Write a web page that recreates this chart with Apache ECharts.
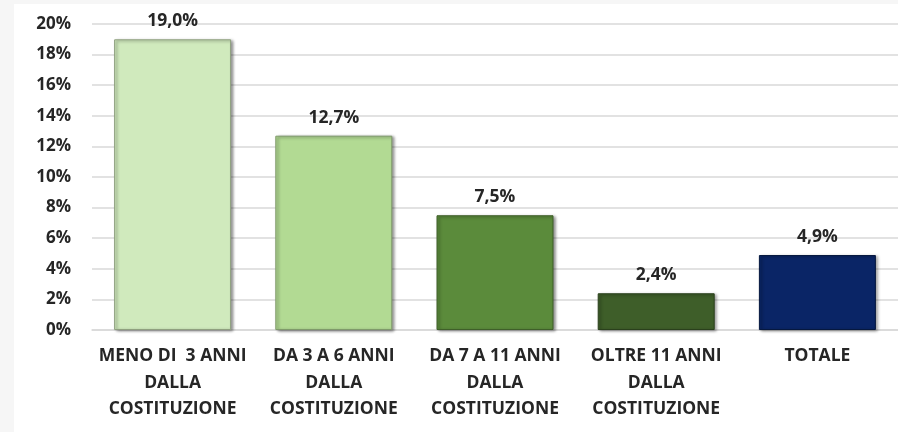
<!DOCTYPE html>
<html>
<head>
<meta charset="utf-8">
<script src="https://cdn.jsdelivr.net/npm/echarts@6/dist/echarts.min.js"></script>
<style>
  body { margin: 0; background: #f6f6f6; width: 898px; height: 432px; overflow: hidden; }
  #main { position: absolute; left: 14px; top: 4px; width: 884px; height: 428px; background: #fff; }
</style>
</head>
<body>
<div id="main"></div>
<script>
var categorie = ['MENO DI  3 ANNI\nDALLA\nCOSTITUZIONE', 'DA 3 A 6 ANNI\nDALLA\nCOSTITUZIONE',
                 'DA 7 A 11 ANNI\nDALLA\nCOSTITUZIONE', 'OLTRE 11 ANNI\nDALLA\nCOSTITUZIONE', 'TOTALE'];
var valori = [19.0, 12.7, 7.5, 2.4, 4.9];
var colori = ['#d0eabd', '#b2da93', '#5b8b3b', '#3e5e29', '#0a2566'];
var bordi = ['#8fa07f', '#7f9a6a', '#3f5f29', '#2a401c', '#06183f'];

var chart = echarts.init(document.getElementById('main'));
var option = {
    animation: false,
    textStyle: { fontFamily: 'Open Sans' },
    grid: { left: 78, top: 20, width: 810, bottom: 102 },
    xAxis: {
        type: 'category',
        data: categorie,
        axisLine: { lineStyle: { color: '#d9d9d9', width: 1.5 } },
        axisTick: { show: false },
        axisLabel: {
            interval: 0,
            margin: 13,
            color: '#262626',
            fontWeight: 'bold',
            fontSize: 17.5,
            lineHeight: 26.5
        }
    },
    yAxis: {
        type: 'value',
        min: 0,
        max: 20,
        interval: 2,
        axisLine: { show: false },
        axisTick: { show: false },
        axisLabel: {
            formatter: '{value}%',
            margin: 21,
            color: '#262626',
            fontWeight: 'bold',
            fontSize: 17
        },
        splitLine: { lineStyle: { color: '#d9d9d9', width: 1.5 } }
    },
    series: [{
        type: 'bar',
        barWidth: 117,
        data: valori.map(function (v, i) {
            return {
                value: v,
                itemStyle: {
                    color: colori[i],
                    borderColor: bordi[i],
                    borderWidth: 1,
                    shadowColor: 'rgba(0,0,0,0.45)',
                    shadowBlur: 3,
                    shadowOffsetX: 2,
                    shadowOffsetY: 1
                }
            };
        }),
        label: {
            show: true,
            position: 'top',
            distance: 9,
            color: '#262626',
            fontWeight: 'bold',
            fontSize: 17.5,
            formatter: function (p) { return p.value.toFixed(1).replace('.', ',') + '%'; }
        }
    }]
};
chart.setOption(option);
</script>
</body>
</html>
